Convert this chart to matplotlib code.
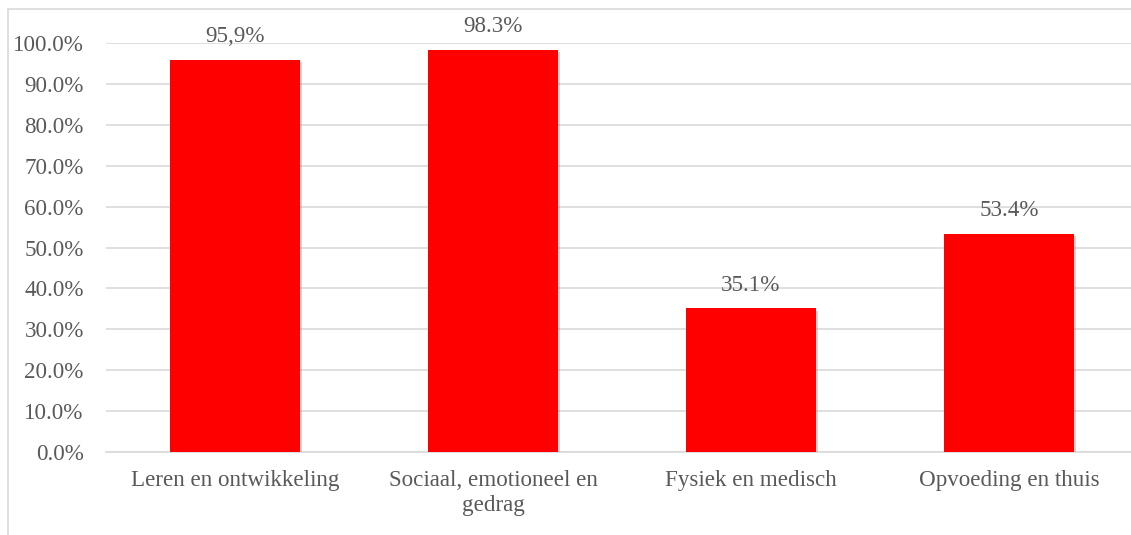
import matplotlib
matplotlib.use('Agg')
import matplotlib.pyplot as plt
import matplotlib.patheffects as pe
from matplotlib.patches import Rectangle

categories = ['Leren en ontwikkeling', 'Sociaal, emotioneel en\ngedrag',
              'Fysiek en medisch', 'Opvoeding en thuis']
values = [95.9, 98.3, 35.1, 53.4]
value_labels = ['95,9%', '98.3%', '35.1%', '53.4%']
yticks = [0, 10, 20, 30, 40, 50, 60, 70, 80, 90, 100]

plt.rcParams['font.family'] = ['Liberation Serif', 'DejaVu Serif']
text_col = '#595959'
grid_col = '#d9d9d9'
fs = 16.6

fig = plt.figure(figsize=(11.31, 5.35), dpi=100)
# outer chart border
fig.patches.append(Rectangle((8 / 1131, -0.1), 1.2, (535 - 9) / 535 + 0.1,
                             transform=fig.transFigure, fill=False,
                             edgecolor=grid_col, linewidth=1.2))

ax = fig.add_axes([106 / 1131, (535 - 452) / 535, (1138 - 106) / 1131, (452 - 43) / 535])
x = range(len(categories))
bars = ax.bar(x, values, width=0.504, color='#ff0000', zorder=3)
for b in bars:
    b.set_path_effects([pe.SimplePatchShadow(offset=(1.5, -1.5), shadow_rgbFace='#888888', alpha=0.35),
                        pe.Normal()])

for i, (v, lab) in enumerate(zip(values, value_labels)):
    ax.annotate(lab, (i, v), xytext=(0, 9), textcoords='offset points',
                ha='center', va='bottom', fontsize=fs, color=text_col, zorder=4)

ax.set_xlim(-0.5, len(categories) - 0.5)
ax.set_ylim(0, 100)
ax.set_yticks(yticks)
ax.set_yticklabels(['%.1f%%' % t for t in yticks])
ax.set_xticks(list(x))
ax.set_xticklabels(categories, linespacing=1.25)
ax.tick_params(axis='both', length=0, labelsize=fs, labelcolor=text_col)
ax.tick_params(axis='y', pad=16)
ax.tick_params(axis='x', pad=13)
ax.yaxis.grid(True, color=grid_col, linewidth=1.2, zorder=0)
for s in ['top', 'right', 'left']:
    ax.spines[s].set_visible(False)
ax.spines['bottom'].set_color(grid_col)
ax.spines['bottom'].set_linewidth(1.2)

fig.savefig('out.png', dpi=100)
